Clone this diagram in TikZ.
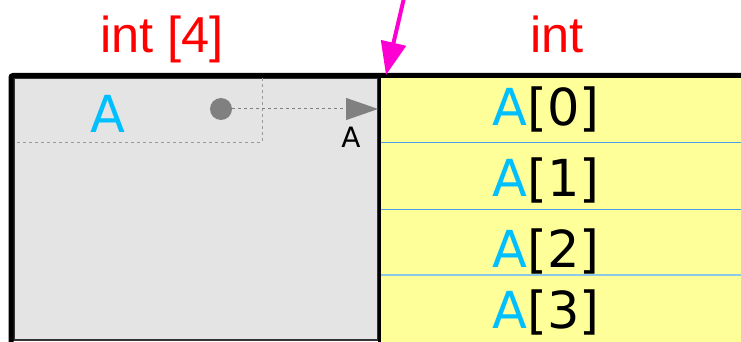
\documentclass[tikz,border=0pt]{standalone}
\usepackage{fontspec}
\setmainfont{DejaVu Sans}
\newfontfamily\labelfont{Liberation Sans}
\usetikzlibrary{arrows.meta}
\definecolor{cellgray}{HTML}{E4E4E4}
\definecolor{cellyellow}{HTML}{FFFF99}
\definecolor{idcyan}{HTML}{00BFFF}
\definecolor{sepblue}{HTML}{4A9FE8}
\definecolor{sepblue2}{HTML}{8CC8E8}
\definecolor{pinkarrow}{RGB}{255,0,210}
\definecolor{ptrgray}{HTML}{808080}
\definecolor{dashgray}{HTML}{9A9A9A}
\tikzset{
  typelabel/.style={font=\labelfont\fontsize{50.5}{58}\selectfont, text=red, anchor=base, inner sep=0pt},
  celltext/.style={font=\fontsize{51}{60}\selectfont, anchor=base, inner sep=0pt},
  smalllabel/.style={font=\fontsize{28}{34}\selectfont, anchor=base, inner sep=0pt},
  ptrdot/.style={circle, fill=ptrgray, minimum size=22pt, inner sep=0pt},
  ptrline/.style={draw=ptrgray, line width=1pt, dash pattern=on 3pt off 3pt, -{Triangle[length=32pt,width=22pt]}},
  guideline/.style={draw=dashgray, line width=1pt, dash pattern=on 3pt off 3pt},
  seprule/.style={draw=sepblue, line width=1pt},
  pinkptr/.style={draw=pinkarrow, line width=4pt, -{Triangle[length=33pt,width=25pt]}},
}
\begin{document}
\begin{tikzpicture}[x=1pt,y=-1pt]
\useasboundingbox (0,0) rectangle (741,342);
% cells
\fill[cellyellow] (380,76) rectangle (741,342);
\fill[cellgray] (11,76) rectangle (379,340);
\draw[draw=black!80, line width=1.2pt] (14,78) rectangle (378,340);
% separators in yellow column
\draw[seprule] (380,142) -- (741,142);
\draw[seprule] (380,209) -- (741,209);
\draw[draw=sepblue2, line width=1.5pt] (380,275) -- (741,275);
% divider and outer frame
\draw[line width=2.5pt] (379.5,76) -- (379.5,342);
\draw[line width=5pt, rounded corners=2pt] (11,345) -- (11,75.5) -- (745,75.5);
% type labels
\node[typelabel] (t4) at (162,53) {int [4]};
\node[typelabel] (t1) at (557,53) {int};
% gray cell contents
\draw[guideline] (262,78) -- (262,142) -- (15,142);
\node[celltext, text=idcyan] (nameA) at (108,132) {A};
\node[ptrdot] (dot) at (221,109) {};
\coordinate (target) at (378,109);
\draw[ptrline] (dot.east) -- (target);
\node[smalllabel] (lblA) at (351,147) {A};
% yellow cell contents
\node[celltext] (a0) at (546,125) {\textcolor{idcyan}{A}[0]};
\node[celltext] (a1) at (546,196) {\textcolor{idcyan}{A}[1]};
\node[celltext] (a2) at (546,267) {\textcolor{idcyan}{A}[2]};
\node[celltext] (a3) at (546,328) {\textcolor{idcyan}{A}[3]};
% pink pointer
\coordinate (pstart) at (404,-2);
\coordinate (ptip) at (386,75);
\draw[pinkptr] (pstart) -- (ptip);
\end{tikzpicture}
\end{document}
